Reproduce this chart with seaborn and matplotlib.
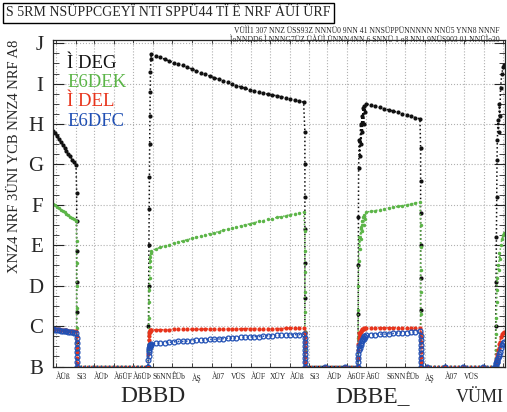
"""
Fission fractions over two cycles (reconstruction)
"""

import pandas as pd
import matplotlib
matplotlib.use("Agg")
import matplotlib.pyplot as plt
import seaborn as sns
from matplotlib.ticker import MultipleLocator

sns.set_style("ticks")
plt.rcParams["font.family"] = ["Liberation Serif", "DejaVu Serif"]

# -----------------------------
# DATA (day 0 = 2002-01-01)
# -----------------------------
days = [-5, -2, 1, 4, 7, 10, 13, 16, 19, 22, 25, 28, 31,
        32, 32, 32, 32, 32, 32, 32,
        144,
        144.3, 144.6, 145, 145.4, 145.8, 146.2, 146.6, 147, 147.5, 148,
        149, 156, 163, 170, 177, 184, 191, 198, 205, 212, 219, 226, 233, 240, 247, 254, 261, 268,
        275, 282, 289, 296, 303, 310, 317, 324, 331, 338, 345, 352, 359, 366, 373, 380, 387,
        389, 389, 389, 389, 389, 389, 389, 389,
        420, 452, 472,
        472.3, 472.5, 472.7, 473,
        474, 475, 476, 477, 478, 479, 480, 481, 482, 483,
        485, 492, 499, 506, 513, 520, 527, 534, 541, 548, 555, 562, 569,
        570, 570, 570, 570, 570, 570, 570, 570,
        580, 608, 637, 668, 687,
        687.5, 688, 688.5, 689, 689.5, 690, 691, 692, 693, 694, 695, 697, 699, 701]

u235 = [5.84, 5.77, 5.70, 5.63, 5.56, 5.49, 5.41, 5.34, 5.27, 5.20, 5.12, 5.05, 4.98,
        4.30, 3.60, 2.85, 2.10, 1.35, 0.60, 0.00,
        0.00,
        1.0, 2.0, 3.0, 3.9, 4.7, 5.5, 6.2, 6.8, 7.3, 7.6,
        7.74, 7.69, 7.65, 7.60, 7.56, 7.52, 7.48, 7.45, 7.41, 7.36, 7.32, 7.27, 7.23, 7.19, 7.15, 7.11, 7.07, 7.03,
        6.99, 6.95, 6.92, 6.88, 6.85, 6.82, 6.79, 6.76, 6.74, 6.72, 6.70, 6.68, 6.65, 6.62, 6.60, 6.57, 6.54,
        5.80, 5.00, 4.20, 3.40, 2.55, 1.70, 0.85, 0.00,
        0.00, 0.00, 0.00,
        1.3, 2.5, 3.7, 4.9,
        5.6, 5.2, 6.0, 5.5, 6.2, 5.8, 6.4, 6.0, 6.45, 6.3,
        6.50, 6.47, 6.44, 6.41, 6.38, 6.35, 6.32, 6.29, 6.26, 6.22, 6.19, 6.16, 6.13,
        5.40, 4.60, 3.80, 3.00, 2.20, 1.40, 0.60, 0.00,
        0.00, 0.00, 0.00, 0.00, 0.00,
        1.0, 2.1, 3.2, 4.2, 5.1, 5.6, 6.1, 5.8, 6.5, 6.2, 6.9, 7.25, 7.4, 7.47]

pu239 = [4.02, 3.99, 3.95, 3.92, 3.88, 3.85, 3.82, 3.78, 3.75, 3.71, 3.68, 3.64, 3.61,
         3.10, 2.55, 2.00, 1.45, 0.95, 0.40, 0.00,
         0.00,
         0.4, 0.8, 1.2, 1.6, 1.9, 2.2, 2.45, 2.6, 2.72, 2.8,
         2.86, 2.91, 2.95, 2.98, 3.01, 3.05, 3.08, 3.11, 3.14, 3.17, 3.20, 3.23, 3.26, 3.29, 3.31, 3.34, 3.37, 3.40,
         3.43, 3.45, 3.48, 3.51, 3.53, 3.56, 3.59, 3.61, 3.64, 3.66, 3.69, 3.71, 3.73, 3.76, 3.78, 3.80, 3.82,
         3.35, 2.85, 2.35, 1.85, 1.35, 0.85, 0.40, 0.00,
         0.00, 0.00, 0.00,
         0.7, 1.4, 2.0, 2.6,
         3.2, 2.9, 3.45, 3.15, 3.6, 3.35, 3.7, 3.5, 3.75, 3.65,
         3.82, 3.84, 3.86, 3.88, 3.90, 3.92, 3.94, 3.96, 3.98, 4.00, 4.02, 4.05, 4.07,
         3.50, 2.95, 2.40, 1.85, 1.30, 0.80, 0.35, 0.00,
         0.00, 0.00, 0.00, 0.00, 0.00,
         0.4, 0.8, 1.2, 1.6, 1.9, 2.2, 2.5, 2.4, 2.8, 2.65, 3.0, 3.15, 3.25, 3.3]

u238 = [0.93, 0.93, 0.92, 0.92, 0.91, 0.91, 0.90, 0.90, 0.89, 0.89, 0.88, 0.88, 0.87,
        0.75, 0.62, 0.48, 0.35, 0.22, 0.09, 0.00,
        0.00,
        0.3, 0.5, 0.65, 0.75, 0.82, 0.86, 0.88, 0.89, 0.90, 0.90,
        0.90, 0.91, 0.91, 0.91, 0.91, 0.92, 0.92, 0.92, 0.92, 0.92, 0.92, 0.92, 0.93, 0.93, 0.93, 0.93, 0.93, 0.93,
        0.93, 0.93, 0.93, 0.94, 0.94, 0.94, 0.94, 0.94, 0.94, 0.94, 0.94, 0.94, 0.95, 0.95, 0.95, 0.95, 0.95,
        0.84, 0.72, 0.60, 0.48, 0.36, 0.24, 0.12, 0.00,
        0.00, 0.00, 0.00,
        0.2, 0.4, 0.55, 0.7,
        0.82, 0.78, 0.88, 0.85, 0.92, 0.90, 0.94, 0.93, 0.96, 0.95,
        0.95, 0.96, 0.96, 0.96, 0.96, 0.96, 0.96, 0.96, 0.96, 0.96, 0.96, 0.96, 0.96,
        0.84, 0.72, 0.60, 0.48, 0.36, 0.24, 0.12, 0.00,
        0.00, 0.00, 0.00, 0.00, 0.00,
        0.05, 0.1, 0.15, 0.2, 0.25, 0.3, 0.4, 0.45, 0.55, 0.6, 0.72, 0.8, 0.84, 0.86]

pu241 = [0.92, 0.91, 0.91, 0.90, 0.89, 0.88, 0.88, 0.87, 0.86, 0.85, 0.85, 0.84, 0.83,
         0.71, 0.59, 0.47, 0.35, 0.23, 0.11, 0.00,
         0.00,
         0.15, 0.27, 0.36, 0.42, 0.46, 0.49, 0.51, 0.52, 0.53, 0.54,
         0.55, 0.57, 0.58, 0.59, 0.60, 0.61, 0.62, 0.62, 0.63, 0.64, 0.65, 0.65, 0.66, 0.67, 0.67, 0.68, 0.69, 0.70,
         0.70, 0.71, 0.72, 0.72, 0.73, 0.74, 0.74, 0.75, 0.76, 0.76, 0.77, 0.77, 0.78, 0.78, 0.79, 0.79, 0.80,
         0.70, 0.60, 0.50, 0.40, 0.30, 0.20, 0.10, 0.00,
         0.00, 0.00, 0.00,
         0.1, 0.2, 0.3, 0.4,
         0.50, 0.45, 0.58, 0.54, 0.65, 0.62, 0.70, 0.68, 0.75, 0.73,
         0.77, 0.78, 0.79, 0.80, 0.80, 0.81, 0.82, 0.83, 0.84, 0.84, 0.85, 0.86, 0.87,
         0.76, 0.65, 0.54, 0.43, 0.33, 0.22, 0.11, 0.00,
         0.00, 0.00, 0.00, 0.00, 0.00,
         0.02, 0.05, 0.08, 0.1, 0.12, 0.15, 0.2, 0.25, 0.3, 0.35, 0.45, 0.52, 0.58, 0.6]

series_names = ["Ì DEG", "E6DEK", "Ì DEL", "E6DFC"]
series_colors = ["#111111", "#5cb548", "#e8341c", "#2150b4"]

month_labels = ["ÀÜß", "Sí3", "ÀÜÞ", "À6ÜF", "À6ÜÞ", "S6NN", "ÊÜb", "ÀŞ", "À07", "VÜS", "ÀÜF", "XÜY",
                "ÀÜß", "Sí3", "ÀÜÞ", "À6ÜF", "À6Ü", "S6NN", "ÊÜb", "ÀŞ", "À07", "VÜS", "", ""]
y_labels = ["B", "C", "D", "E", "F", "G", "H", "I", "J"]
year_labels = ["DBBD", "DBBE_"]

df = pd.DataFrame({"day": days, "a": u235, "b": pu239, "c": u238, "d": pu241})

# -----------------------------
# GRÁFICO
# -----------------------------
W, H = 507, 412
fig = plt.figure(figsize=(W / 100, H / 100), dpi=100)
ax = fig.add_axes([53 / W, 1 - 366.5 / H, 452 / W, 326.5 / H])

estilos = [dict(marker=".", markersize=6, markeredgewidth=0),
           dict(marker=".", markersize=5, markeredgewidth=0),
           dict(marker=".", markersize=6, markeredgewidth=0),
           dict(marker="o", markersize=3.5, markerfacecolor="none", markeredgewidth=0.9)]
for col, cor, st in zip(["a", "b", "c", "d"], series_colors, estilos):
    sns.lineplot(x="day", y=col, data=df, ax=ax, estimator=None, sort=False, color=cor,
                 linestyle=":", linewidth=1.1, markeredgecolor=cor, **st)

ax.set_xlim(-5, 702)
ax.set_ylim(0, 8.08)
ax.set_xlabel("")
ax.set_ylabel("")

meses = pd.date_range("2002-01-01", "2003-12-01", freq="MS")
ticks = [(m - pd.Timestamp("2002-01-01")).days for m in meses]
ax.set_xticks(ticks)
ax.set_xticklabels(month_labels, fontsize=5.5, ha="left")
ax.set_yticks(range(9))
ax.set_yticklabels(y_labels, fontsize=15)
ax.yaxis.set_minor_locator(MultipleLocator(0.25))
ax.tick_params(axis="y", which="major", direction="in", length=8, width=0.8, pad=7, right=True)
ax.tick_params(axis="y", which="minor", direction="in", length=4, width=0.6, right=True)
ax.tick_params(axis="x", which="major", direction="in", length=3, width=0.6, pad=5, top=True)
for s in ax.spines.values():
    s.set_linewidth(0.9)
ax.grid(True, linestyle=":", color="#b0b0b0", linewidth=0.8)

# legenda só com texto colorido
for i, (nome, cor) in enumerate(zip(series_names, series_colors)):
    fig.text(67 / W, 1 - (63 + 19.5 * i) / H, nome, color=cor, fontsize=13.5, va="center", ha="left")

# textos
fig.text(6 / W, 1 - 13 / H, "S 5RM NSÜPPCGEYÏ NTI SPPÜ44 TÏ Ê NRF ÀÜÌ ÜRF", fontsize=10,
         va="center", ha="left",
         bbox=dict(facecolor="white", edgecolor="black", boxstyle="square,pad=0.25", linewidth=1))
fig.text(500 / W, 1 - 31 / H, "VÜÌÌ1 307 NNZ ÜSS93Z NNNÜ0 9NN 41 NNSÜPPÜNNNNN NNÜ5 YNN8 NNNF",
         fontsize=5.5, ha="right", va="center")
fig.text(500 / W, 1 - 40 / H, "ÌoNNDD6 Ì NNNG7ÜZ ÜÀÜÌ ÜNNN4NN 6 SNNÜ 1 o8 NN1 9NÜS903 01 NNÜÌo30",
         fontsize=5.5, ha="right", va="center")
fig.text(15 / W, 1 - 40 / H, "XNZ4 NRF 3ÜNI YCB NNZ4 NRF A8", fontsize=10.5, rotation=90,
         ha="center", va="top")
fig.text(153 / W, 1 - 397 / H, year_labels[0], fontsize=17, ha="center", va="center")
fig.text(373 / W, 1 - 397 / H, year_labels[1], fontsize=17, ha="center", va="center")
fig.text(504 / W, 1 - 397 / H, "VÜMI", fontsize=13, ha="right", va="center")

fig.savefig("out.png", dpi=100)
